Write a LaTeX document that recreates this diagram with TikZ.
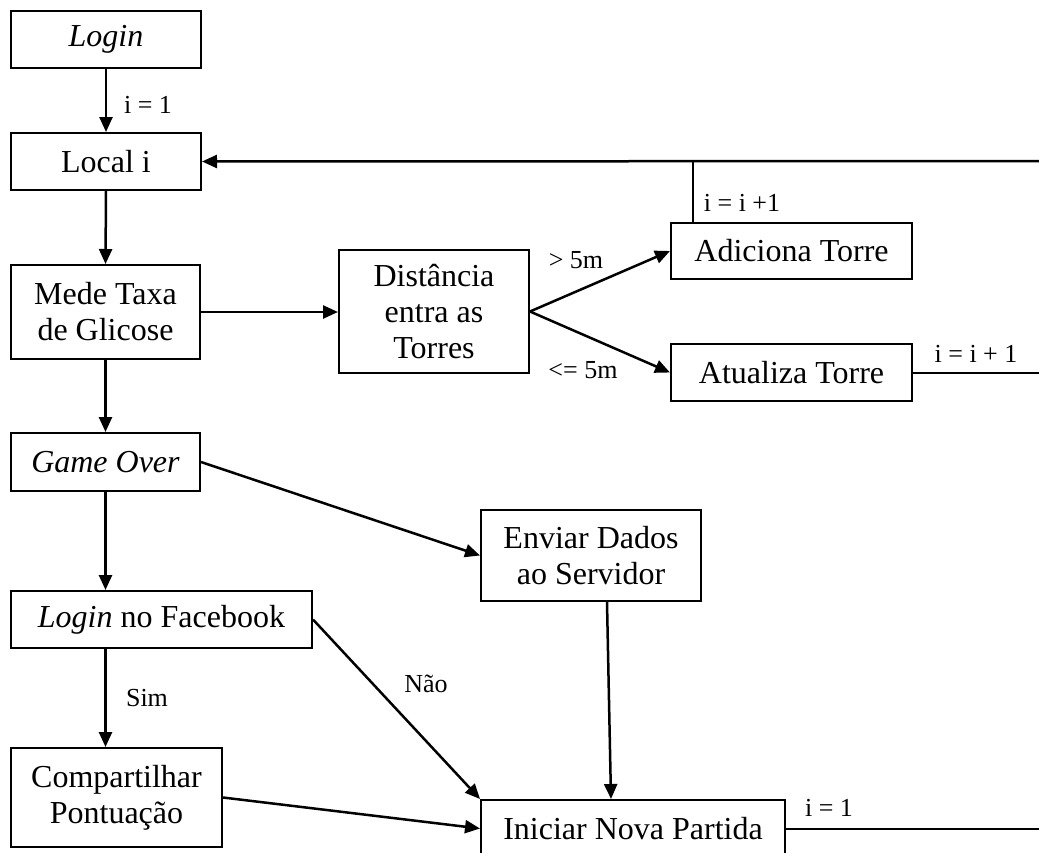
\documentclass[tikz,border=0pt]{standalone}
\usepackage{fontspec}
\setmainfont{Liberation Serif}
\usetikzlibrary{arrows.meta,calc}
\begin{document}
\begin{tikzpicture}[x=1pt,y=-1pt,
  box/.style={draw,line width=2pt,inner sep=0pt,align=center,font=\fontsize{32}{36}\selectfont},
  arr/.style={line width=2.5pt,-{Triangle[length=15pt,width=13pt]}},
  plain/.style={line width=2pt},
  lbl/.style={font=\fontsize{26}{30}\selectfont,inner sep=0pt}]
\useasboundingbox (0,0) rectangle (1039,852);
\clip (0,0) rectangle (1039,852);
% boxes
\node[box,minimum width=190pt,minimum height=57pt] (login) at (106,39.5) {\textit{Login}};
\node[box,minimum width=190pt,minimum height=57pt] (local) at (106,161.5) {Local i};
\node[box,minimum width=189pt,minimum height=94pt] (mede) at (105.5,312) {Mede Taxa\\de Glicose};
\node[box,minimum width=190pt,minimum height=123pt] (dist) at (434,311.5) {Distância\\entra as\\Torres};
\node[box,minimum width=241pt,minimum height=56pt] (adic) at (791.5,251) {Adiciona Torre};
\node[box,minimum width=241pt,minimum height=57pt] (atual) at (791.5,372.5) {Atualiza Torre};
\node[box,minimum width=189pt,minimum height=58pt] (game) at (105.5,462) {\textit{Game Over}};
\node[box,minimum width=220pt,minimum height=91pt] (enviar) at (591,555.5) {Enviar Dados\\ao Servidor};
\node[box,minimum width=301pt,minimum height=57pt] (fb) at (161.5,619.5) {\textit{Login} no Facebook};
\node[box,minimum width=211pt,minimum height=99pt] (comp) at (116.5,797.5) {Compartilhar\\Pontuação};
\node[box,minimum width=304pt,minimum height=57pt] (ini) at (633,828.5) {Iniciar Nova Partida};
% free ends
\coordinate (topR) at (1039,161);
\coordinate (tap) at (693,161);
\coordinate (atR) at (1039,372.5);
\coordinate (iniR) at (1039,828.5);
% connectors
\draw[arr] (login.south) -- (local.north);
\node[lbl] (l1) at (148,105) {i = 1};
\draw[arr] (topR) -- (local.east);
\draw[plain] (tap) -- (tap |- adic.north);
\node[lbl] (l2) at (742,203) {i = i +1};
\draw[arr] (local.south) -- (mede.north);
\draw[arr] (mede.east) -- (dist.west |- mede.east);
\draw[arr] (dist.east) -- (adic.west);
\draw[arr] (dist.east) -- (atual.west);
\node[lbl] (l3) at (576,260) {> 5m};
\node[lbl] (l4) at (583,370) {<= 5m};
\draw[plain] (atual.east) -- (atR);
\node[lbl] (l5) at (976,354) {i = i + 1};
\draw[arr] (mede.south) -- (game.north);
\draw[arr] (game.east) -- (enviar.west);
\draw[arr] (game.south) -- (game.south |- fb.north);
\draw[arr] (game.south |- fb.south) -- (game.south |- comp.north);
\node[lbl] (l6) at (147,698) {Sim};
\draw[arr] (fb.east) -- (ini.north west);
\node[lbl] (l7) at (426,684) {Não};
\draw[arr] ($(enviar.south)+(16,0)$) -- ($(ini.north)+(-22,0)$);
\draw[arr] (comp.east) -- (ini.west);
\draw[plain] (ini.east) -- (iniR);
\node[lbl] (l8) at (829,808) {i = 1};
\end{tikzpicture}
\end{document}
